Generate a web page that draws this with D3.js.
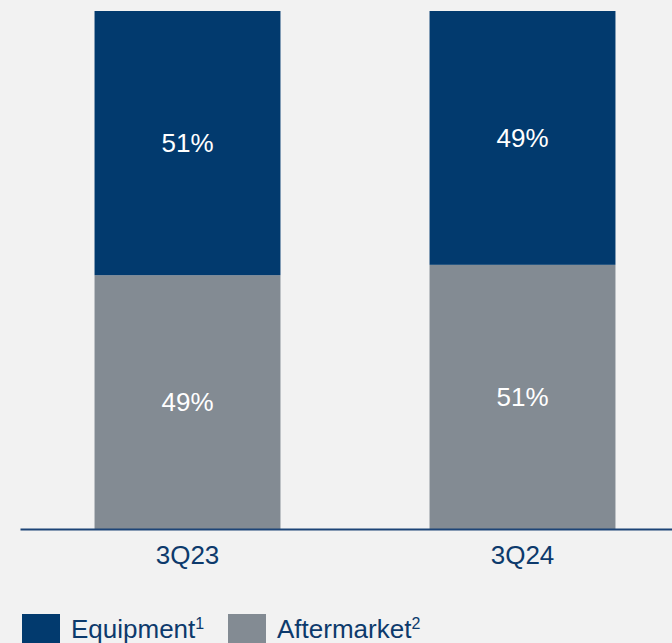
<!DOCTYPE html>
<html lang="en">
<head>
    <meta charset="UTF-8">
    <title>Equipment vs Aftermarket mix</title>
    <script src="https://d3js.org/d3.v7.min.js"></script>
    <style>
        body {
            margin: 0;
            padding: 0;
            background: #f2f2f2;
            overflow: hidden;
        }
        svg {
            display: block;
            font-family: "Liberation Sans", Arial, Helvetica, sans-serif;
        }
    </style>
</head>
<body>
    <svg id="vis"></svg>
    <script>
        const width = 672;
        const height = 643;

        // data
        const periods = ["3Q23", "3Q24"];
        const aftermarket = [49, 51];
        const equipment = [51, 49];
        const seriesNames = ["Equipment", "Aftermarket"];
        const seriesSup = ["1", "2"];
        const colors = ["#023a6e", "#838b93"];

        const svg = d3.select("#vis")
            .attr("width", width)
            .attr("height", height);

        const x = d3.scaleBand()
            .domain(periods)
            .range([20, 690])
            .paddingInner(0.445)
            .paddingOuter(0.2225);

        const y = d3.scaleLinear()
            .domain([0, 100])
            .range([529, 11]);

        const rows = periods.map((p, i) => ({ period: p, Aftermarket: aftermarket[i], Equipment: equipment[i] }));
        const stack = d3.stack().keys(["Aftermarket", "Equipment"])(rows);

        const layers = svg.append("g")
            .selectAll("g")
            .data(stack)
            .join("g")
            .attr("fill", d => colors[seriesNames.indexOf(d.key)]);

        layers.selectAll("rect")
            .data(d => d)
            .join("rect")
            .attr("x", d => x(d.data.period))
            .attr("y", d => y(d[1]))
            .attr("width", x.bandwidth())
            .attr("height", d => y(d[0]) - y(d[1]));

        layers.selectAll("text")
            .data(d => d)
            .join("text")
            .attr("x", d => x(d.data.period) + x.bandwidth() / 2)
            .attr("y", d => (y(d[0]) + y(d[1])) / 2)
            .attr("dy", "0.35em")
            .attr("text-anchor", "middle")
            .attr("fill", "#ffffff")
            .attr("font-size", 26)
            .text(d => (d[1] - d[0]) + "%");

        // x axis
        const axis = svg.append("g")
            .attr("transform", `translate(0,${y(0)})`)
            .call(d3.axisBottom(x).tickSize(0).tickPadding(17));
        axis.select(".domain")
            .attr("stroke", "#1d4477")
            .attr("stroke-width", 2);
        axis.selectAll("text")
            .attr("font-size", 26)
            .attr("font-family", "Liberation Sans, Arial, sans-serif")
            .attr("fill", "#0d3a6c");

        // legend
        const legendX = [22, 228];
        const legend = svg.append("g")
            .selectAll("g")
            .data(seriesNames)
            .join("g")
            .attr("transform", (d, i) => `translate(${legendX[i]},614)`);

        legend.append("rect")
            .attr("width", 38)
            .attr("height", 38)
            .attr("fill", (d, i) => colors[i]);

        const lt = legend.append("text")
            .attr("x", 49)
            .attr("y", 24)
            .attr("font-size", 26)
            .attr("fill", "#0d3a6c");
        lt.append("tspan").text(d => d);
        lt.append("tspan")
            .attr("font-size", 16)
            .attr("dy", -9)
            .text((d, i) => seriesSup[i]);
    </script>
</body>
</html>
